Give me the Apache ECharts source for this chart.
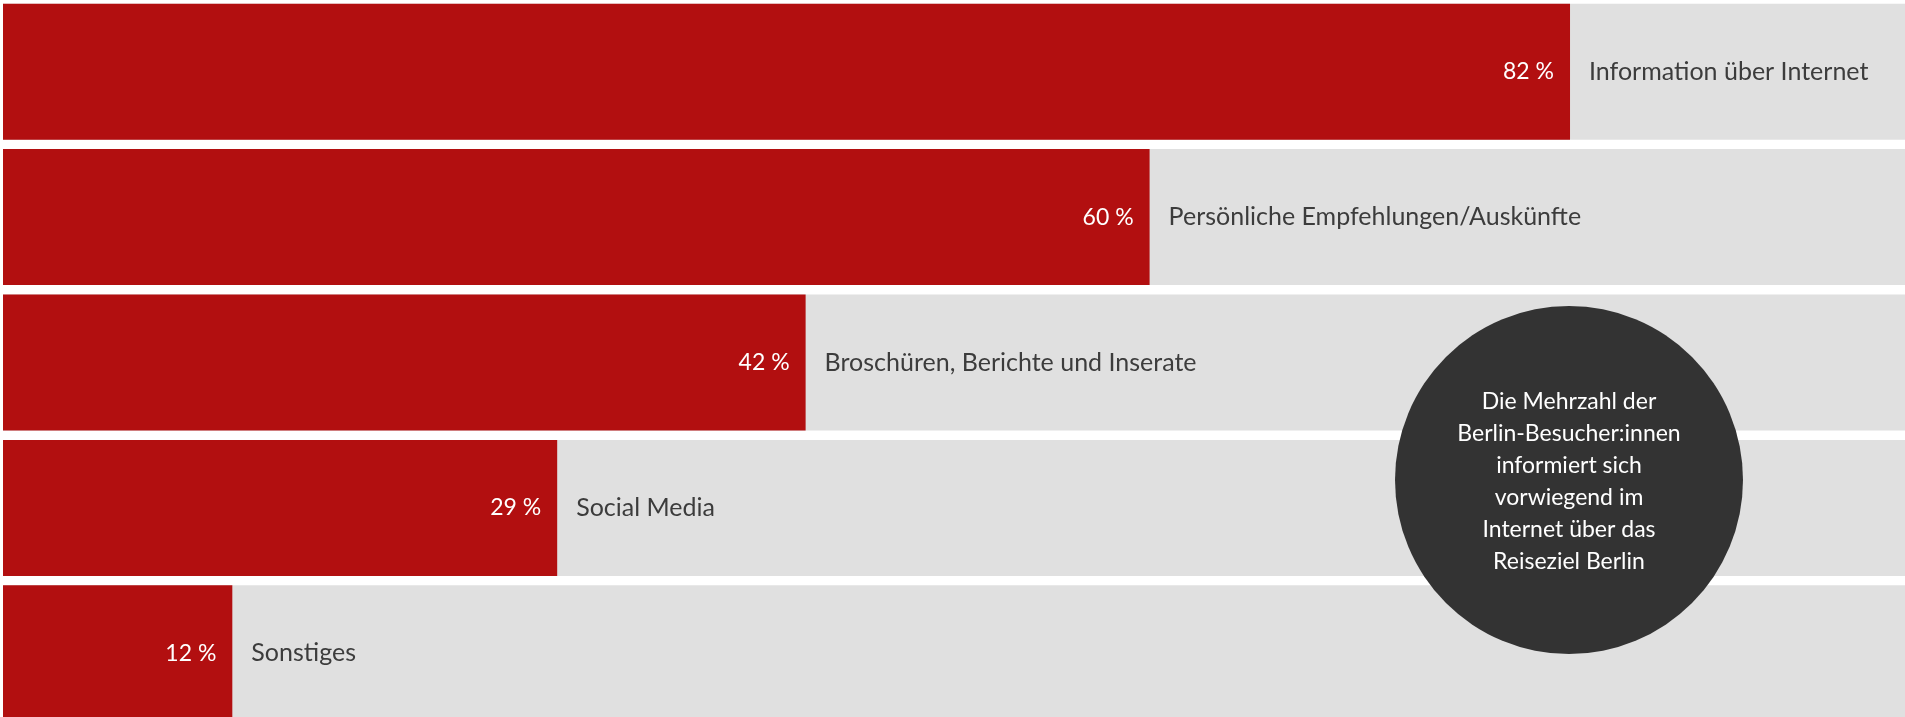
<!DOCTYPE html>
<html>
<head>
<meta charset="utf-8">
<style>
  html, body { margin: 0; padding: 0; background: #ffffff; }
  #main { width: 1905px; height: 717px; }
</style>
<script src="https://cdn.jsdelivr.net/npm/echarts@6/dist/echarts.min.js"></script>
</head>
<body>
<div id="main"></div>
<script>
var categories = ['Information über Internet', 'Persönliche Empfehlungen/Auskünfte', 'Broschüren, Berichte und Inserate', 'Social Media', 'Sonstiges'];
var shares = [82, 60, 42, 29, 12];
var noteLines = ['Die Mehrzahl der', 'Berlin-Besucher:innen', 'informiert sich', 'vorwiegend im', 'Internet über das', 'Reiseziel Berlin'];

var chart = echarts.init(document.getElementById('main'));

var option = {
  backgroundColor: '#ffffff',
  animation: false,
  textStyle: { fontFamily: 'Lato' },

  // Balken fast randlos, ragen unten und rechts etwas ueber den Rand
  grid: {
    top: -1,
    bottom: -9,
    left: 3,
    right: -9,
    outerBoundsMode: 'none'
  },

  xAxis: {
    type: 'value',
    min: 0,
    max: 100,
    show: false
  },

  yAxis: {
    type: 'category',
    inverse: true,
    data: categories,
    show: false
  },

  series: [{
      name: 'Anteil',
      type: 'bar',
      data: shares,
      barWidth: 136,
      showBackground: true,
      backgroundStyle: { color: '#e0e0e0' },
      itemStyle: { color: '#b20f10' },
      label: {
        show: true,
        position: 'insideRight',
        distance: 16,
        color: '#ffffff',
        fontSize: 23,
        formatter: '{c} %'
      }
    },
    {
      // unsichtbar, nur fuer die Kategorie-Beschriftung
      name: 'Kategorie',
      type: 'bar',
      data: shares,
      barWidth: 136,
      barGap: '-100%',
      itemStyle: { color: 'rgba(0,0,0,0)' },
      label: {
        show: true,
        position: 'right',
        distance: 19,
        color: '#3c3c3c',
        fontSize: 25,
        formatter: function (p) { return p.name; }
      }
    }
  ],

  graphic: [{
    type: 'group',
    left: 1395,
    top: 306,
    z: 100,
    children: [{
        type: 'circle',
        z: 100,
        shape: { cx: 174, cy: 174, r: 174 },
        style: { fill: '#333333' }
      },
      {
        type: 'text',
        z: 101,
        x: 174,
        y: 176,
        style: {
          text: noteLines.join('\n'),
          fill: '#ffffff',
          font: '23px Lato',
          lineHeight: 32,
          align: 'center',
          verticalAlign: 'middle'
        }
      }
    ]
  }]
};

chart.setOption(option);
</script>
</body>
</html>
